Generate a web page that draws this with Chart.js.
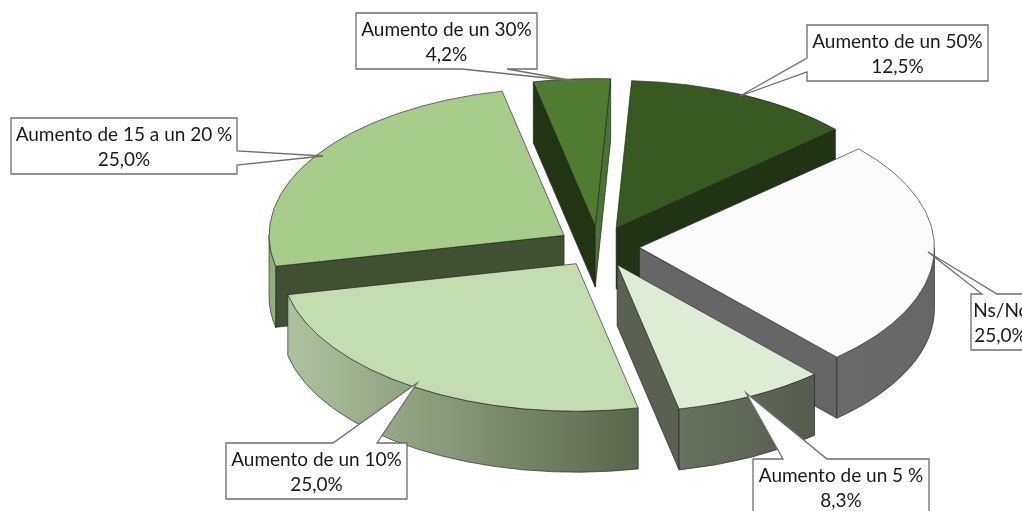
<!DOCTYPE html>
<html><head><meta charset="utf-8">
<style>html,body{margin:0;padding:0;background:#fff}canvas{display:block}</style>
<script src="https://cdn.jsdelivr.net/npm/chart.js@4"></script>
</head><body><canvas id="c" width="1022" height="511"></canvas>
<script>
const categories=['Aumento de un 50%','Ns/Nc','Aumento de un 5 %','Aumento de un 10%','Aumento de 15 a un 20 %','Aumento de un 30%'];
const values=[12.5,25.0,8.3,25.0,25.0,4.2];
const topColors=['#38591f','#fbfbfb','#dfecd5','#c3dcb0','#a8cd8b','#4f7c30'];
const wallLeft=['#203314','#6a6a6a','#687260','#aec2a0','#8fb377','#4a7530'];
const wallRight=['#203314','#666666','#565c4e','#5a664c','#8fb377','#4a7530'];
const faceStart=['#203314','#666666','#5a6152','#5a664c','#414f32','#213413'];
const faceEnd=['#203314','#666666','#5a6152','#5a664c','#414f32','#4a7530'];
const squash=0.5, depth=61, pieRadius=295, explode=41, edge='rgba(35,35,35,0.85)';
// callouts: box left, top, right, bottom, pointer base (a,b) along a side, tip x,y
const boxes=[
 {r:[807,25,988,81],side:'left',a:58,b:72,tip:[740,96]},
 {r:[971,294,1030,350],side:'top',a:982,b:997,tip:[928,252]},
 {r:[753,459,929,515],side:'top',a:783,b:827,tip:[746,393]},
 {r:[226,443,407,499],side:'top',a:333,b:377,tip:[417,383]},
 {r:[11,118,237,174],side:'right',a:151,b:165,tip:[323,156]},
 {r:[356,13,537,69],side:'bottom',a:462,b:507,tip:[575,81]}
];
function centre(chart){const c=chart.chartArea;return [(c.left+c.right)/2,(c.top+c.bottom)/2];}
function geom(arc,chart){
  const [cx,cy]=centre(chart), mid=(arc.startAngle+arc.endAngle)/2;
  return {X:cx+Math.cos(mid)*explode,Y:cy+Math.sin(mid)*explode*squash,R:pieRadius,mid};
}
function pt(g,a){return [g.X+Math.cos(a)*g.R,g.Y+Math.sin(a)*g.R*squash];}
function face(ctx,g,a,color){
  const p=pt(g,a);
  ctx.beginPath();ctx.moveTo(g.X,g.Y);ctx.lineTo(p[0],p[1]);ctx.lineTo(p[0],p[1]+depth);ctx.lineTo(g.X,g.Y+depth);ctx.closePath();
  ctx.fillStyle=color;ctx.fill();ctx.stroke();
}
const pie3d={id:'pie3d',
  beforeDatasetDraw(chart){
    const ctx=chart.ctx, arcs=chart.getDatasetMeta(0).data, [cx,cy]=centre(chart);
    // explode: move each arc element outwards along its own middle angle
    arcs.forEach(a=>{
      const mid=(a.startAngle+a.endAngle)/2;
      a.x=cx+Math.cos(mid)*explode;
      a.y=cy+Math.sin(mid)*explode;
    });
    ctx.save();ctx.lineWidth=0.8;ctx.strokeStyle=edge;ctx.lineJoin='round';
    const order=arcs.map((a,i)=>i).sort((p,q)=>Math.sin(geom(arcs[p],chart).mid)-Math.sin(geom(arcs[q],chart).mid));
    order.forEach(i=>{
      const arc=arcs[i],g=geom(arc,chart),s=arc.startAngle,e=arc.endAngle;
      if(-Math.cos(s)>0) face(ctx,g,s,faceStart[i]);
      if(Math.cos(e)>0) face(ctx,g,e,faceEnd[i]);
      // visible outer wall: the part of the rim facing the viewer
      [[s,e],[s-2*Math.PI,e-2*Math.PI],[s+2*Math.PI,e+2*Math.PI]].forEach(([u,v])=>{
        const a0=Math.max(u,0),a1=Math.min(v,Math.PI);
        if(a1<=a0) return;
        const pa=pt(g,a0),pb=pt(g,a1);
        const gr=ctx.createLinearGradient(Math.min(pa[0],pb[0]),0,Math.max(pa[0],pb[0]),0);
        gr.addColorStop(0,wallLeft[i]);gr.addColorStop(1,wallRight[i]);
        ctx.beginPath();
        ctx.ellipse(g.X,g.Y,g.R,g.R*squash,0,a0,a1);
        ctx.ellipse(g.X,g.Y+depth,g.R,g.R*squash,0,a1,a0,true);
        ctx.closePath();ctx.fillStyle=gr;ctx.fill();ctx.stroke();
      });
    });
    ctx.restore();
    ctx.save();ctx.translate(0,cy);ctx.scale(1,squash);ctx.translate(0,-cy);
  },
  afterDatasetDraw(chart){chart.ctx.restore();},
  afterDraw(chart){
    const ctx=chart.ctx;
    categories.forEach((name,i)=>{
      const b=boxes[i],[l,t,r,bt]=b.r,[tx,ty]=b.tip;
      ctx.beginPath();ctx.moveTo(l,t);
      if(b.side==='top'){ctx.lineTo(b.a,t);ctx.lineTo(tx,ty);ctx.lineTo(b.b,t);}
      ctx.lineTo(r,t);
      if(b.side==='right'){ctx.lineTo(r,b.a);ctx.lineTo(tx,ty);ctx.lineTo(r,b.b);}
      ctx.lineTo(r,bt);
      if(b.side==='bottom'){ctx.lineTo(b.b,bt);ctx.lineTo(tx,ty);ctx.lineTo(b.a,bt);}
      ctx.lineTo(l,bt);
      if(b.side==='left'){ctx.lineTo(l,b.b);ctx.lineTo(tx,ty);ctx.lineTo(l,b.a);}
      ctx.closePath();
      ctx.fillStyle='#fff';ctx.fill();ctx.lineWidth=1.3;ctx.strokeStyle='#6e6e6e';ctx.lineJoin='miter';ctx.stroke();
      ctx.fillStyle='#1a1a1a';ctx.font='19px Lato';ctx.textAlign='center';ctx.textBaseline='alphabetic';
      const cx=(l+r)/2;
      ctx.fillText(name,cx,t+23);
      ctx.fillText(values[i].toFixed(1).replace('.',',')+'%',cx,t+48);
    });
  }
};
new Chart(document.getElementById('c'),{
  type:'pie',
  data:{labels:categories,datasets:[{data:values,backgroundColor:topColors,borderColor:edge,borderWidth:1,radius:pieRadius}]},
  options:{responsive:false,animation:false,rotation:3,events:[],
    layout:{padding:{left:175,bottom:18}},
    plugins:{legend:{display:false},tooltip:{enabled:false},title:{display:false}}},
  plugins:[pie3d]
});
</script></body></html>
